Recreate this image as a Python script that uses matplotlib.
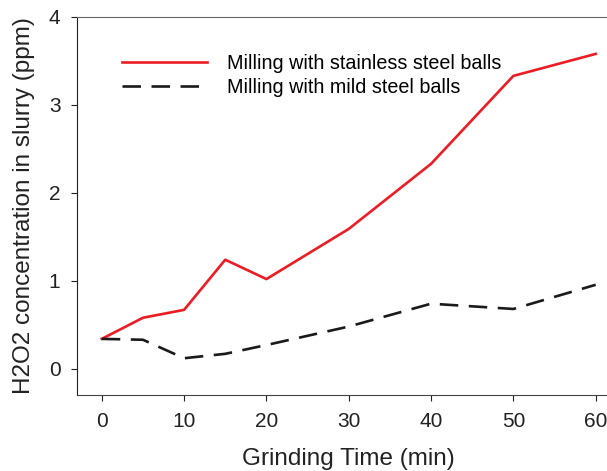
import numpy as np
import matplotlib.pyplot as plt

plt.rcParams['font.family'] = ['Liberation Sans', 'DejaVu Sans']

time_min = [0, 5, 10, 15, 20, 30, 40, 50, 60]
stainless = [0.34, 0.58, 0.67, 1.24, 1.02, 1.59, 2.33, 3.33, 3.58]
mild = [0.34, 0.33, 0.12, 0.17, 0.27, 0.48, 0.74, 0.68, 0.955]

fig = plt.figure(figsize=(6.07, 4.71), dpi=100)
ax = fig.add_axes([0.127, 0.161, 0.895, 0.803])

ax.plot(time_min, stainless, color='#ed1c24', lw=1.9, label='Milling with stainless steel balls')
ax.plot(time_min, mild, color='#1a1a1a', lw=1.9, dashes=(7, 4), label='Milling with mild steel balls')

ax.set_xlim(-3, 63)
ax.set_ylim(-0.3, 4)
ax.set_xticks([0, 10, 20, 30, 40, 50, 60])
ax.set_yticks([0, 1, 2, 3, 4])
ax.tick_params(direction='out', length=4, labelsize=15, colors='#222222', pad=8)

ax.spines['right'].set_visible(False)
ax.spines['left'].set_color('#222222')
ax.spines['top'].set_color('#666666')
ax.spines['bottom'].set_color('#444444')

ax.set_xlabel('Grinding Time (min)', fontsize=17.5, color='#222222', labelpad=12)
ax.set_ylabel('H2O2 concentration in slurry (ppm)', fontsize=17.5, color='#222222', labelpad=10)

ax.legend(loc='upper left', bbox_to_anchor=(0.05, 0.95), frameon=False, fontsize=14.2,
          handlelength=4.3, handletextpad=1.0, labelspacing=0.25)

fig.savefig('out.png', dpi=100)
